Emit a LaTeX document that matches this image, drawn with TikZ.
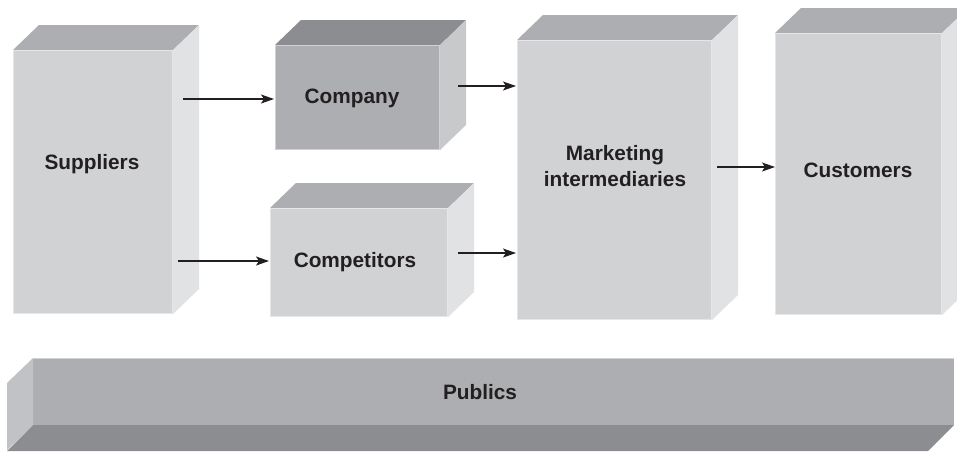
\documentclass[tikz,border=0pt]{standalone}
\usepackage{fontspec}
\setmainfont{Liberation Sans}
\usetikzlibrary{arrows.meta}
\definecolor{frontL}{HTML}{D1D2D4}
\definecolor{topL}{HTML}{ADAEB1}
\definecolor{sideL}{HTML}{E1E2E4}
\definecolor{frontD}{HTML}{ADAEB1}
\definecolor{topD}{HTML}{8C8D90}
\definecolor{sideD}{HTML}{C8C9CB}
\definecolor{pubLeft}{HTML}{C1C2C5}
\definecolor{ink}{HTML}{231F20}
\tikzset{
  face/.style={draw=none, inner sep=0pt, outer sep=0pt, anchor=north west},
  label/.style={font=\fontsize{20.8}{26}\selectfont\bfseries, text=ink, anchor=base, inner sep=0pt},
  arr/.style={draw=ink, line width=1.2pt, -{Stealth[length=13pt,width=9pt,inset=3pt]}},
}
% #1 node name, #2 top colour, #3 side colour, #4 front colour
\newcommand\drawcube[4]{%
  \fill[#2] (#1.north west) -- ++(26,-25) -- ([shift={(26,-25)}]#1.north east) -- (#1.north east) -- cycle;
  \fill[#3] (#1.north east) -- ++(26,-25) -- ([shift={(26,-25)}]#1.south east) -- (#1.south east) -- cycle;
  \draw[#4!55!white, line width=1pt] ([shift={(0.5,-0.5)}]#1.south west) rectangle ([shift={(-0.5,0.5)}]#1.north east);
}
\begin{document}
\begin{tikzpicture}[x=1pt,y=-1pt]
\clip (0,0) rectangle (957,451);
\fill[white] (0,0) rectangle (957,451);

% Suppliers
\node[face, fill=frontL, minimum width=160pt, minimum height=264pt] (sup) at (13,50) {};
\drawcube{sup}{topL}{sideL}{frontL}
\node[label] (supT) at (92,169) {Suppliers};

% Company
\node[face, fill=frontD, minimum width=165pt, minimum height=105pt] (com) at (275,45) {};
\drawcube{com}{topD}{sideD}{frontD}
\node[label] (comT) at (352,103) {Company};

% Competitors
\node[face, fill=frontL, minimum width=178pt, minimum height=109pt] (cpt) at (270,208) {};
\drawcube{cpt}{topL}{sideL}{frontL}
\node[label] (cptT) at (355,267) {Competitors};

% Marketing intermediaries
\node[face, fill=frontL, minimum width=195pt, minimum height=280pt] (mkt) at (517,40) {};
\drawcube{mkt}{topL}{sideL}{frontL}
\node[label, anchor=center, align=center] (mktT) at (615,166) {Marketing\\intermediaries};

% Customers
\node[face, fill=frontL, minimum width=167pt, minimum height=282pt] (cus) at (775,33) {};
\drawcube{cus}{topL}{sideL}{frontL}
\node[label] (cusT) at (858,177) {Customers};

% Publics
\node[face, fill=frontD, minimum width=921pt, minimum height=67pt] (pub) at (33,358) {};
\fill[pubLeft] (pub.north west) -- ++(-26,25) -- ([shift={(-26,25)}]pub.south west) -- (pub.south west) -- cycle;
\fill[topD] (pub.south west) -- ++(-26,26) -- ([shift={(-26,26)}]pub.south east) -- (pub.south east) -- cycle;
\draw[frontD!55!white, line width=1pt] ([shift={(0,0.5)}]pub.north west) -- ([shift={(0,0.5)}]pub.north east);
\node[label] (pubT) at (480,399) {Publics};

% arrow end points
\coordinate (a1s) at (183,99);  \coordinate (a1e) at (274,99);
\coordinate (a2s) at (178,261); \coordinate (a2e) at (269,261);
\coordinate (a3s) at (458,86);  \coordinate (a3e) at (516,86);
\coordinate (a4s) at (458,253); \coordinate (a4e) at (516,253);
\coordinate (a5s) at (717,167); \coordinate (a5e) at (775,167);
\draw[arr] (a1s) -- (a1e);
\draw[arr] (a2s) -- (a2e);
\draw[arr] (a3s) -- (a3e);
\draw[arr] (a4s) -- (a4e);
\draw[arr] (a5s) -- (a5e);
\end{tikzpicture}
\end{document}
